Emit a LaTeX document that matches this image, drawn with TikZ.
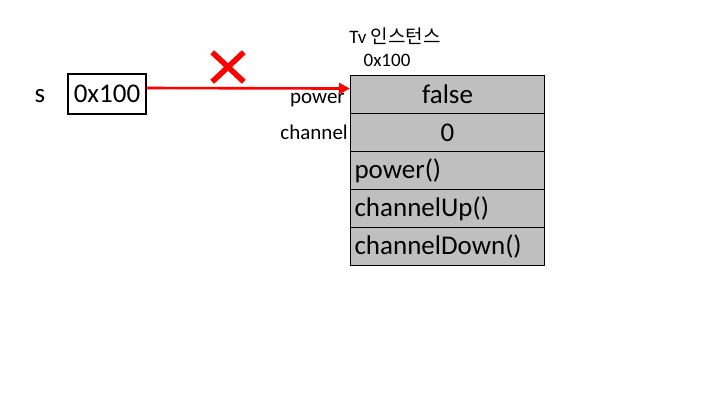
\documentclass[tikz,border=0pt]{standalone}
\usepackage{fontspec}
\setmainfont{Carlito}
\newfontfamily\krfont{Noto Sans CJK KR}
\usetikzlibrary{arrows.meta,positioning,shapes.misc}

\begin{document}
\begin{tikzpicture}[x=1pt,y=-1pt,>={Triangle[length=11pt,width=11pt]},
  cell/.style={draw=black,line width=1.1pt,fill=black!25,minimum width=194pt,
    minimum height=38pt,anchor=north west,inner sep=0pt,font=\fontsize{27}{30}\selectfont},
  fld/.style={anchor=east,inner sep=1pt,font=\fontsize{21}{24}\selectfont},
  ref/.style={->,red,line width=2.6pt}]
  \useasboundingbox (0,0) rectangle (720,405);
  % variable s
  \node[font=\fontsize{27}{30}\selectfont] (s) at (40,96) {s};
  \node[draw=black,line width=1.1pt,minimum width=78pt,minimum height=40pt,inner sep=0pt,
    font=\fontsize{27}{30}\selectfont] (ptr) at (107,94) {0x100};
  % the Tv object
  \node[font=\fontsize{19}{22}\selectfont] (title) at (395,36) {Tv \krfont 인스턴스};
  \node[font=\fontsize{19}{22}\selectfont] (addr) at (387,60) {0x100};
  \foreach \y/\n/\t in {75/r1/false,113/r2/0}{
    \node[cell,align=center] (\n) at (350,\y) {\t};
  }
  \foreach \y/\n/\t in {151/r3/power(),189/r4/channelUp(),227/r5/channelDown()}{
    \node[cell,text width=186pt,align=left,inner xsep=4pt] (\n) at (350,\y) {\t};
  }
  \node[fld] (lp) at ([xshift=-4pt,yshift=-6pt]r1.west) {power};
  \node[fld] (lc) at ([xshift=-1pt,yshift=0pt]r2.west) {channel};
  % pointer (cut)
  \draw[ref] ([yshift=6pt]ptr.east) -- ([yshift=6pt]r1.west);
  \node[cross out,draw=red,line width=5.5pt,minimum width=26pt,minimum height=24pt,
    inner sep=0pt] (cut) at (228,67) {};
\end{tikzpicture}
\end{document}
